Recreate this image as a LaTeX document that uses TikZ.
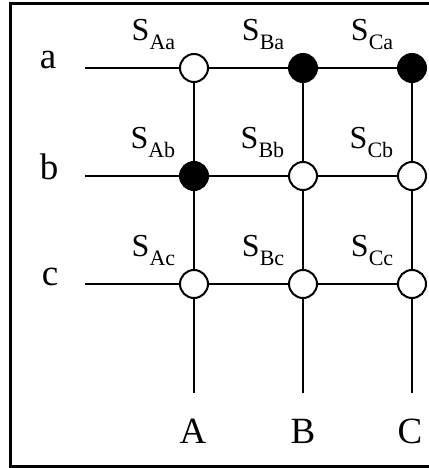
\documentclass[tikz,border=0pt]{standalone}
\usepackage{fontspec}
\setmainfont{Liberation Serif}
\usetikzlibrary{positioning}

\newcommand{\swname}[1]{S\raisebox{-9pt}{\fontsize{22}{22}\selectfont #1}}

\tikzset{
  sw/.style={circle,draw,line width=2pt,minimum size=28pt,inner sep=0pt,fill=white},
  swon/.style={sw,fill=black},
  wire/.style={line width=2.8pt},
  swlabel/.style={inner sep=0pt,font=\fontsize{32}{32}\selectfont},
  linelabel/.style={inner sep=0pt,anchor=base,font=\fontsize{37}{37}\selectfont}
}

\begin{document}
\begin{tikzpicture}[x=1pt,y=-1pt]
\useasboundingbox (0,0) rectangle (428,468);

% frame
\draw[line width=2.8pt] (440,3.5) -- (10.5,3.5) -- (10.5,466.5) -- (440,466.5);

% switches
\node[sw]   (Aa) at (194,68) {};
\node[swon] (Ba) at (303,68) {};
\node[swon] (Ca) at (412,68) {};
\node[swon] (Ab) at (194,176) {};
\node[sw]   (Bb) at (303,176) {};
\node[sw]   (Cb) at (412,176) {};
\node[sw]   (Ac) at (194,284) {};
\node[sw]   (Bc) at (303,284) {};
\node[sw]   (Cc) at (412,284) {};

% free ends of the lines
\coordinate (a0) at (85,68);
\coordinate (b0) at (85,176);
\coordinate (c0) at (85,284);
\coordinate (A0) at (194,393);
\coordinate (B0) at (303,393);
\coordinate (C0) at (412,393);

\draw[wire] (a0) -- (Aa) -- (Ba) -- (Ca);
\draw[wire] (b0) -- (Ab) -- (Bb) -- (Cb);
\draw[wire] (c0) -- (Ac) -- (Bc) -- (Cc);
\draw[wire] (Aa) -- (Ab) -- (Ac) -- (A0);
\draw[wire] (Ba) -- (Bb) -- (Bc) -- (B0);
\draw[wire] (Ca) -- (Cb) -- (Cc) -- (C0);

% line names
\node[linelabel] (la) at (48,69) {a};
\node[linelabel] (lb) at (49,179) {b};
\node[linelabel] (lc) at (50,285) {c};
\node[linelabel] (lA) at (193,443) {A};
\node[linelabel] (lB) at (303,443) {B};
\node[linelabel] (lC) at (410,443) {C};

% switch names
\node[swlabel, above left=7pt and 8pt of Aa] (tAa) {\swname{Aa}};
\node[swlabel, above left=7pt and 8pt of Ba] (tBa) {\swname{Ba}};
\node[swlabel, above left=7pt and 8pt of Ca] (tCa) {\swname{Ca}};
\node[swlabel, above left=7pt and 8pt of Ab] (tAb) {\swname{Ab}};
\node[swlabel, above left=7pt and 8pt of Bb] (tBb) {\swname{Bb}};
\node[swlabel, above left=7pt and 8pt of Cb] (tCb) {\swname{Cb}};
\node[swlabel, above left=7pt and 8pt of Ac] (tAc) {\swname{Ac}};
\node[swlabel, above left=7pt and 8pt of Bc] (tBc) {\swname{Bc}};
\node[swlabel, above left=7pt and 8pt of Cc] (tCc) {\swname{Cc}};
\end{tikzpicture}
\end{document}
